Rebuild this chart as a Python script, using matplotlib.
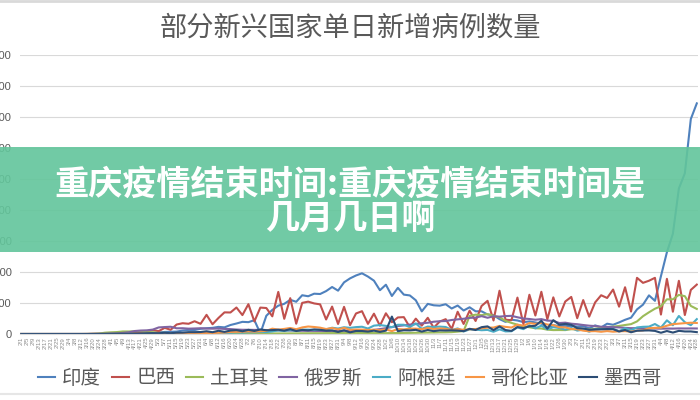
import numpy as np
import pandas as pd
import matplotlib
matplotlib.use("Agg")
import matplotlib.pyplot as plt
from matplotlib.patches import Rectangle
from matplotlib.lines import Line2D

plt.rcParams['font.family'] = ['Noto Sans CJK SC', 'DejaVu Sans']

# 日期标签：2020/2/1 起每 4 天一个
dates = pd.date_range("2020-02-01", "2021-04-28", freq="4D")
date_labels = [f"{d.month}/{d.day}" for d in dates]

# 单日新增病例（千例）
india_k = [
    0, 0, 0, 0, 0, 0, 0, 0, 0, 0,
    0, 0, 0.1, 0.1, 0.2, 0.4, 0.5, 0.8, 1.2, 1.0,
    1.3, 1.8, 1.8, 2.6, 3.3, 3.6, 3.9, 5.6, 6.6, 6.4,
    8.4, 9.3, 9.9, 11.5, 10.7, 14.5, 16.9, 19.6, 19.1, 22.3,
    1.0, 29.4, 38.9, 45.7, 48.7, 55.1, 52.0, 62.5, 60.9, 65.0,
    64.5, 69.2, 75.8, 69.9, 83.3, 89.7, 94.4, 97.9, 92.6, 86.0,
    70.6, 79.5, 61.3, 74.4, 63.5, 62.2, 54.4, 36.5, 48.6, 46.3,
    45.7, 48.0, 41.1, 45.9, 37.9, 43.1, 36.6, 36.6, 31.5, 30.3,
    24.0, 19.6, 23.1, 21.8, 19.1, 20.3, 18.6, 16.9, 10.1, 14.3,
    12.7, 13.1, 12.9, 12.1, 12.9, 9.1, 13.9, 10.6, 16.6, 14.9,
    18.7, 22.9, 26.3, 39.7, 47.3, 62.3, 53.5, 93.2, 131.9, 161.7,
    234.7, 259.2, 346.8, 372.0,
]
brazil_k = [
    0, 0, 0, 0, 0, 0, 0, 0, 0, 0,
    0, 0, 0.3, 0.4, 0.5, 1.1, 0.9, 1.9, 1.3, 3.3,
    2.3, 3.5, 6.3, 4.6, 9.9, 6.8, 15.3, 17.4, 16.5, 20.6,
    16.4, 30.9, 15.7, 25.9, 34.9, 34.7, 42.7, 30.5, 48.1, 20.2,
    42.6, 41.9, 28.5, 67.9, 24.5, 57.8, 16.6, 50.2, 52.2, 49.3,
    47.8, 23.4, 44.2, 16.2, 43.8, 14.3, 33.1, 36.8, 16.4, 32.8,
    13.4, 33.4, 19.0, 26.7, 27.2, 10.9, 24.8, 13.5, 26.1, 10.1,
    20.1, 23.9, 8.0, 35.9, 16.2, 37.6, 21.0, 45.2, 53.5, 21.8,
    69.8, 23.0, 22.3, 58.7, 15.8, 63.3, 29.8, 68.1, 23.7, 59.1,
    28.3, 52.4, 59.8, 25.5, 54.7, 28.0, 51.0, 62.5, 58.1, 71.7,
    44.1, 75.4, 36.2, 90.6, 82.5, 85.9, 90.6, 31.4, 89.0, 35.9,
    85.8, 30.6, 71.1, 79.7,
]
turkey_k = [
    0, 0, 0, 0, 0, 0, 0, 0, 0, 0,
    0, 0.03, 0.2, 0.6, 2.1, 2.7, 3.1, 4.1, 4.1, 4.4,
    4.7, 2.9, 2.9, 1.6, 1.9, 1.1, 1.7, 1.1, 0.9, 0.9,
    0.8, 0.9, 1.0, 1.5, 1.4, 1.2, 1.5, 1.4, 1.2, 1.1,
    1.0, 1.0, 0.9, 0.9, 0.9, 1.0, 1.0, 1.2, 1.2, 1.3,
    1.3, 1.4, 1.5, 1.6, 1.6, 1.7, 1.7, 1.7, 1.6, 1.5,
    1.5, 1.4, 1.5, 1.6, 1.7, 1.8, 2.0, 2.2, 2.3, 2.4,
    2.6, 2.7, 3.0, 3.8, 4.8, 29.1, 31.2, 30.4, 32.1, 29.1,
    27.0, 21.2, 17.9, 15.1, 12.1, 10.9, 9.2, 8.9, 7.0, 6.3,
    6.4, 6.3, 7.7, 7.7, 7.6, 7.1, 8.5, 9.9, 10.9, 11.8,
    13.0, 14.5, 15.9, 20.3, 28.7, 35.0, 40.8, 44.8, 55.9, 55.9,
    63.1, 61.0, 45.3, 40.4,
]
russia_k = [
    0, 0, 0, 0, 0, 0, 0, 0, 0, 0,
    0, 0.02, 0.05, 0.1, 0.2, 0.8, 0.9, 1.8, 2.8, 4.8,
    5.6, 5.9, 7.1, 10.6, 11.2, 11.7, 9.2, 9.3, 8.6, 8.9,
    9.3, 8.8, 8.6, 8.8, 8.2, 7.9, 7.2, 6.8, 6.8, 6.6,
    6.6, 6.4, 6.1, 5.8, 5.8, 5.5, 5.4, 5.2, 5.1, 5.0,
    4.9, 4.9, 4.9, 4.8, 5.2, 5.1, 5.4, 5.7, 6.1, 6.6,
    7.9, 9.4, 11.1, 12.8, 13.9, 15.2, 16.0, 17.3, 18.1, 19.8,
    20.6, 20.9, 22.6, 23.6, 24.6, 26.0, 26.4, 28.8, 26.2, 28.6,
    28.0, 28.9, 29.3, 27.0, 25.0, 24.2, 23.0, 24.0, 21.6, 21.2,
    17.7, 18.3, 16.6, 15.8, 14.5, 13.4, 12.8, 11.7, 11.5, 11.0,
    10.6, 9.9, 9.4, 9.4, 9.1, 9.1, 8.8, 8.6, 8.8, 8.7,
    9.0, 8.9, 9.0, 8.9,
]
argentina_k = [
    0, 0, 0, 0, 0, 0, 0, 0, 0, 0,
    0, 0, 0, 0.1, 0.1, 0.1, 0.1, 0.1, 0.2, 0.1,
    0.1, 0.2, 0.1, 0.2, 0.2, 0.2, 0.3, 0.5, 0.7, 0.7,
    0.6, 0.9, 1.0, 1.4, 1.4, 2.1, 2.6, 2.2, 2.9, 2.6,
    3.6, 3.1, 4.2, 5.8, 4.8, 6.4, 5.0, 7.1, 7.0, 6.4,
    6.8, 7.4, 10.1, 8.8, 10.9, 9.9, 11.1, 11.7, 8.8, 13.5,
    14.4, 13.1, 11.0, 14.9, 14.9, 11.2, 17.1, 8.3, 12.0, 11.2,
    11.9, 11.3, 6.5, 9.0, 4.1, 7.4, 7.1, 6.1, 6.6, 3.6,
    7.5, 4.2, 4.4, 10.7, 7.8, 14.0, 9.1, 13.5, 7.5, 11.0,
    9.6, 7.1, 9.7, 5.5, 7.0, 3.8, 7.7, 8.0, 7.6, 8.3,
    4.7, 9.3, 6.1, 10.6, 11.6, 11.9, 16.1, 10.4, 22.0, 14.1,
    29.1, 19.0, 14.2, 24.0,
]
colombia_k = [
    0, 0, 0, 0, 0, 0, 0, 0, 0, 0,
    0, 0.1, 0.1, 0.1, 0.1, 0.1, 0.1, 0.2, 0.1, 0.2,
    0.2, 0.3, 0.2, 0.4, 0.5, 0.5, 0.6, 0.8, 0.9, 1.1,
    1.3, 1.5, 1.4, 2.1, 2.3, 3.3, 3.5, 3.6, 4.2, 3.7,
    4.5, 5.2, 8.6, 7.1, 8.2, 9.7, 7.7, 10.6, 12.1, 11.3,
    10.2, 8.0, 9.7, 7.4, 10.0, 6.7, 7.2, 7.1, 6.5, 6.9,
    6.0, 7.4, 4.6, 8.0, 7.4, 8.7, 8.6, 7.7, 9.7, 8.1,
    9.0, 8.3, 6.4, 8.0, 6.7, 7.6, 8.0, 9.2, 10.2, 10.4,
    13.0, 11.5, 10.4, 15.0, 13.4, 17.6, 16.3, 18.1, 15.3, 14.2,
    10.9, 10.7, 8.1, 7.6, 5.4, 4.4, 4.6, 3.6, 4.7, 3.7,
    4.4, 4.6, 3.9, 5.4, 5.8, 9.3, 9.9, 10.2, 13.4, 15.9,
    16.7, 17.5, 18.2, 17.8,
]
mexico_k = [
    0, 0, 0, 0, 0, 0, 0, 0, 0, 0,
    0, 0, 0, 0.1, 0.2, 0.2, 0.4, 0.4, 0.3, 0.6,
    0.8, 1.2, 1.4, 1.3, 1.9, 1.3, 2.1, 2.2, 3.0, 3.0,
    3.2, 4.4, 2.9, 5.2, 3.4, 5.6, 6.3, 4.4, 6.7, 4.9,
    7.3, 6.0, 6.3, 6.9, 5.4, 7.8, 4.8, 6.6, 5.9, 7.4,
    6.7, 5.4, 5.8, 3.3, 6.0, 2.6, 4.9, 4.8, 3.9, 5.4,
    3.4, 5.4, 28.1, 4.6, 6.0, 5.8, 6.7, 3.9, 6.5, 4.6,
    5.9, 5.6, 5.9, 5.5, 4.6, 8.4, 6.4, 11.0, 12.3, 6.2,
    12.1, 6.4, 5.0, 11.2, 9.5, 12.5, 13.2, 21.4, 8.5, 22.3,
    15.0, 16.3, 14.8, 9.4, 9.0, 6.8, 7.4, 7.6, 8.0, 7.8,
    4.0, 6.5, 2.8, 5.3, 5.6, 5.8, 5.0, 2.0, 4.8, 2.3,
    5.1, 4.1, 4.1, 3.0,
]

countries = ["印度", "巴西", "土耳其", "俄罗斯", "阿根廷", "哥伦比亚", "墨西哥"]
series = [india_k, brazil_k, turkey_k, russia_k, argentina_k, colombia_k, mexico_k]
colors = ["#4F81BD", "#C0504D", "#9BBB59", "#8064A2", "#4BACC6", "#F79646", "#2C4D75"]

fig = plt.figure(figsize=(7, 4), dpi=100)
ax = fig.add_axes([20 / 700, 1 - 334 / 400, 678 / 700, 279 / 400])

x = np.arange(len(date_labels))
for name, vals, c in zip(countries, series, colors):
    ax.plot(x, np.array(vals) * 1000, color=c, lw=1.5, label=name)

ax.set_ylim(0, 450000)
ax.set_yticks(np.arange(0, 450001, 50000))
ax.set_xlim(-0.2, len(x) - 0.8)
ax.set_xticks(x)
ax.set_xticklabels(date_labels, rotation=90, fontsize=4.3, color="#8c8c8c",
                   family="Liberation Sans")
ax.tick_params(axis="y", length=0, pad=6, labelsize=8, labelcolor="#595959")
ax.tick_params(axis="x", length=0, pad=2)
for lab in ax.get_yticklabels():
    lab.set_family("Liberation Sans")
ax.grid(axis="y", color="#d9d9d9", lw=0.8)
ax.set_axisbelow(True)
for s in ["top", "right", "left"]:
    ax.spines[s].set_visible(False)
ax.spines["bottom"].set_color("#d9d9d9")

fig.text(0.5, 1 - 28 / 400, "部分新兴国家单日新增病例数量", ha="center", va="center",
         fontsize=19.6, color="#595959")

fig.legend(loc="center", bbox_to_anchor=(0.5, 1 - 378 / 400), ncol=7, frameon=False,
           fontsize=14, handlelength=0.9, handletextpad=0.35, columnspacing=0.55,
           labelcolor="#595959")

# 顶部 / 底部细线
fig.add_artist(Line2D([0, 1], [0.998, 0.998], color="#d9d9d9", lw=2, transform=fig.transFigure))
fig.add_artist(Line2D([0, 1], [1 - 394 / 400] * 2, color="#e6e6e6", lw=1.5, transform=fig.transFigure))

# 绿色横幅
fig.add_artist(Rectangle((0, 1 - 252 / 400), 1, 105 / 400, transform=fig.transFigure,
                         facecolor="#62c59b", edgecolor="none", alpha=0.9, zorder=10))
fig.text(0.5, 1 - 184 / 400, "重庆疫情结束时间:重庆疫情结束时间是", ha="center", va="center",
         fontsize=24.6, color="white", weight="heavy", zorder=11)
fig.text(0.5, 1 - 218 / 400, "几月几日啊", ha="center", va="center",
         fontsize=24.6, color="white", weight="heavy", zorder=11)

fig.savefig("out.png", dpi=100)
